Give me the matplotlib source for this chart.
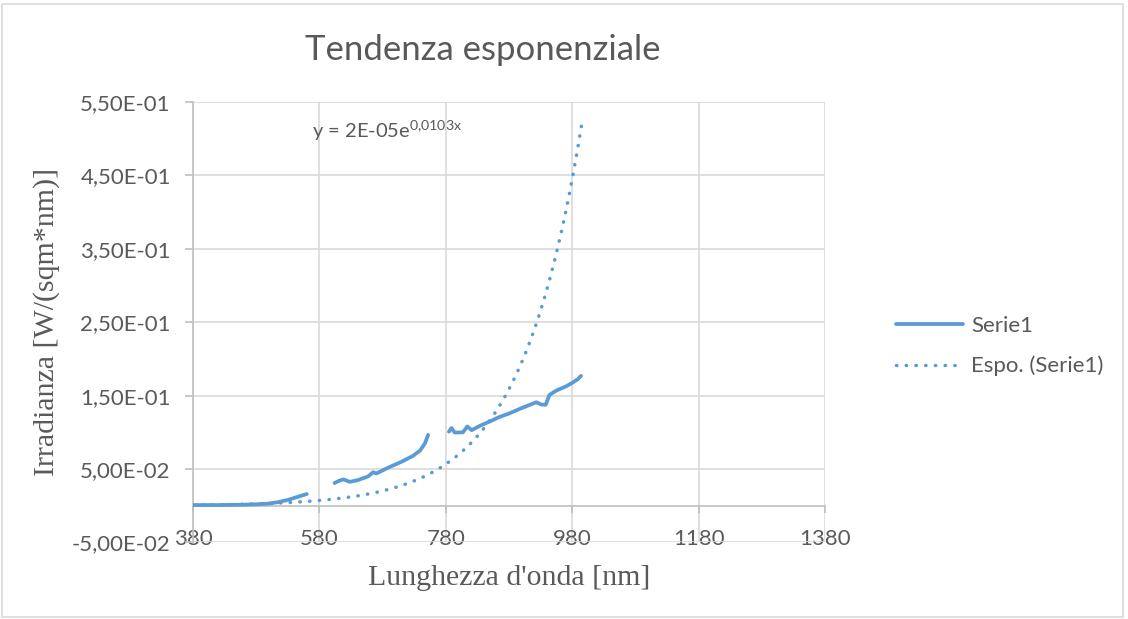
"""Excel-style chart of irradiance against wavelength with exponential trend."""

import matplotlib

matplotlib.use("Agg")
import matplotlib.pyplot as plt
import numpy as np
from matplotlib import patches, ticker

# Serie1 (three separate runs of the spectrum).
WAVE_1 = [380, 400, 420, 440, 460, 480, 500, 515, 530, 545, 560]
IRR_1 = [0.001, 0.001, 0.001, 0.0012, 0.0015, 0.002, 0.003, 0.005, 0.008,
         0.012, 0.016]

WAVE_2 = [604, 611, 618, 628, 641, 657, 665, 670, 689, 710, 728, 739, 747,
          752]
IRR_2 = [0.031, 0.034, 0.036, 0.0326, 0.035, 0.040, 0.0457, 0.044, 0.052,
         0.060, 0.068, 0.075, 0.085, 0.0966]

WAVE_3 = [785, 789, 794, 807, 814, 821, 834, 850, 865, 881, 897, 910, 923,
          931, 938, 944, 955, 971, 981, 989, 994]
IRR_3 = [0.101, 0.106, 0.0998, 0.100, 0.108, 0.103, 0.109, 0.115, 0.121,
         0.126, 0.132, 0.1365, 0.141, 0.138, 0.1375, 0.151, 0.157, 0.163,
         0.168, 0.1725, 0.177]

# Exponential trend y = a * exp(b * x), as drawn in the chart.
TREND_A = 1.84e-5
TREND_B = 0.0103
TREND_RANGE = (380, 995)

X_TICKS = [380, 580, 780, 980, 1180, 1380]
Y_TICKS = [-0.05, 0.05, 0.15, 0.25, 0.35, 0.45, 0.55]

BLUE = "#5B9BD5"
GRID = "#D9D9D9"
TEXT = "#595959"
SANS = ["Lato", "DejaVu Sans"]
SERIF = ["Liberation Serif", "DejaVu Serif"]

plt.rcParams["font.family"] = SANS
plt.rcParams["mathtext.fontset"] = "custom"
plt.rcParams["mathtext.rm"] = "Lato"

fig = plt.figure(figsize=(11.28, 6.19), dpi=100)
ax = fig.add_axes([0.1711, 0.1236, 0.5603, 0.7116])

# Serie1 is drawn as one line with gaps between the runs.
wave = WAVE_1 + [np.nan] + WAVE_2 + [np.nan] + WAVE_3
irr = IRR_1 + [np.nan] + IRR_2 + [np.nan] + IRR_3
ax.plot(wave, irr, color=BLUE, lw=2.7, solid_capstyle="round",
        solid_joinstyle="round", label="Serie1", zorder=3)

trend_x = np.linspace(*TREND_RANGE, 300)
ax.plot(trend_x, TREND_A * np.exp(TREND_B * trend_x), color=BLUE, lw=2.5,
        linestyle=(0, (0.1, 2.7)), dash_capstyle="round",
        label="Espo. (Serie1)", zorder=3)

ax.set_xlim(X_TICKS[0], X_TICKS[-1])
ax.set_ylim(Y_TICKS[0], Y_TICKS[-1])
ax.set_xticks(X_TICKS)
ax.set_yticks(Y_TICKS)
ax.yaxis.set_major_formatter(
    ticker.FuncFormatter(lambda v, _: f"{v:.2E}".replace(".", ",")))
ax.grid(True, color=GRID, lw=1.2)
ax.set_axisbelow(True)

for side in ("top", "right"):
    ax.spines[side].set_visible(False)
ax.spines["bottom"].set_position(("data", 0))
for side in ("left", "bottom"):
    ax.spines[side].set_color("#BFBFBF")
    ax.spines[side].set_linewidth(1.2)
    ax.spines[side].set_zorder(2)
ax.tick_params(axis="both", colors="#BFBFBF", labelcolor=TEXT,
               labelsize=16, width=1.2)
ax.tick_params(axis="y", length=6, pad=10)
ax.tick_params(axis="x", length=5, pad=12)

ax.set_xlabel("Lunghezza d'onda [nm]", family=SERIF, fontsize=21.5,
              color=TEXT, labelpad=11)
ax.set_ylabel("Irradianza [W/(sqm*nm)]", family=SERIF, fontsize=21.5,
              color=TEXT, labelpad=9)

ax.text(0.188, 0.936, r"y = 2E-05e$^{\mathregular{0{,}0103x}}$",
        transform=ax.transAxes, fontsize=14.5, color=TEXT, va="center")

fig.text(0.428, 0.919, "Tendenza esponenziale", fontsize=25, color=TEXT,
         ha="center", va="center")

fig.legend(loc="center left", bbox_to_anchor=(0.777, 0.441), frameon=False,
           fontsize=16, handlelength=3.0, labelspacing=0.9,
           handletextpad=0.35, labelcolor=TEXT)

fig.patches.append(patches.Rectangle(
    (0.002, 0.004), 0.994, 0.99, transform=fig.transFigure, fill=False,
    edgecolor=GRID, lw=1.2))

fig.savefig("out.png", dpi=100)
